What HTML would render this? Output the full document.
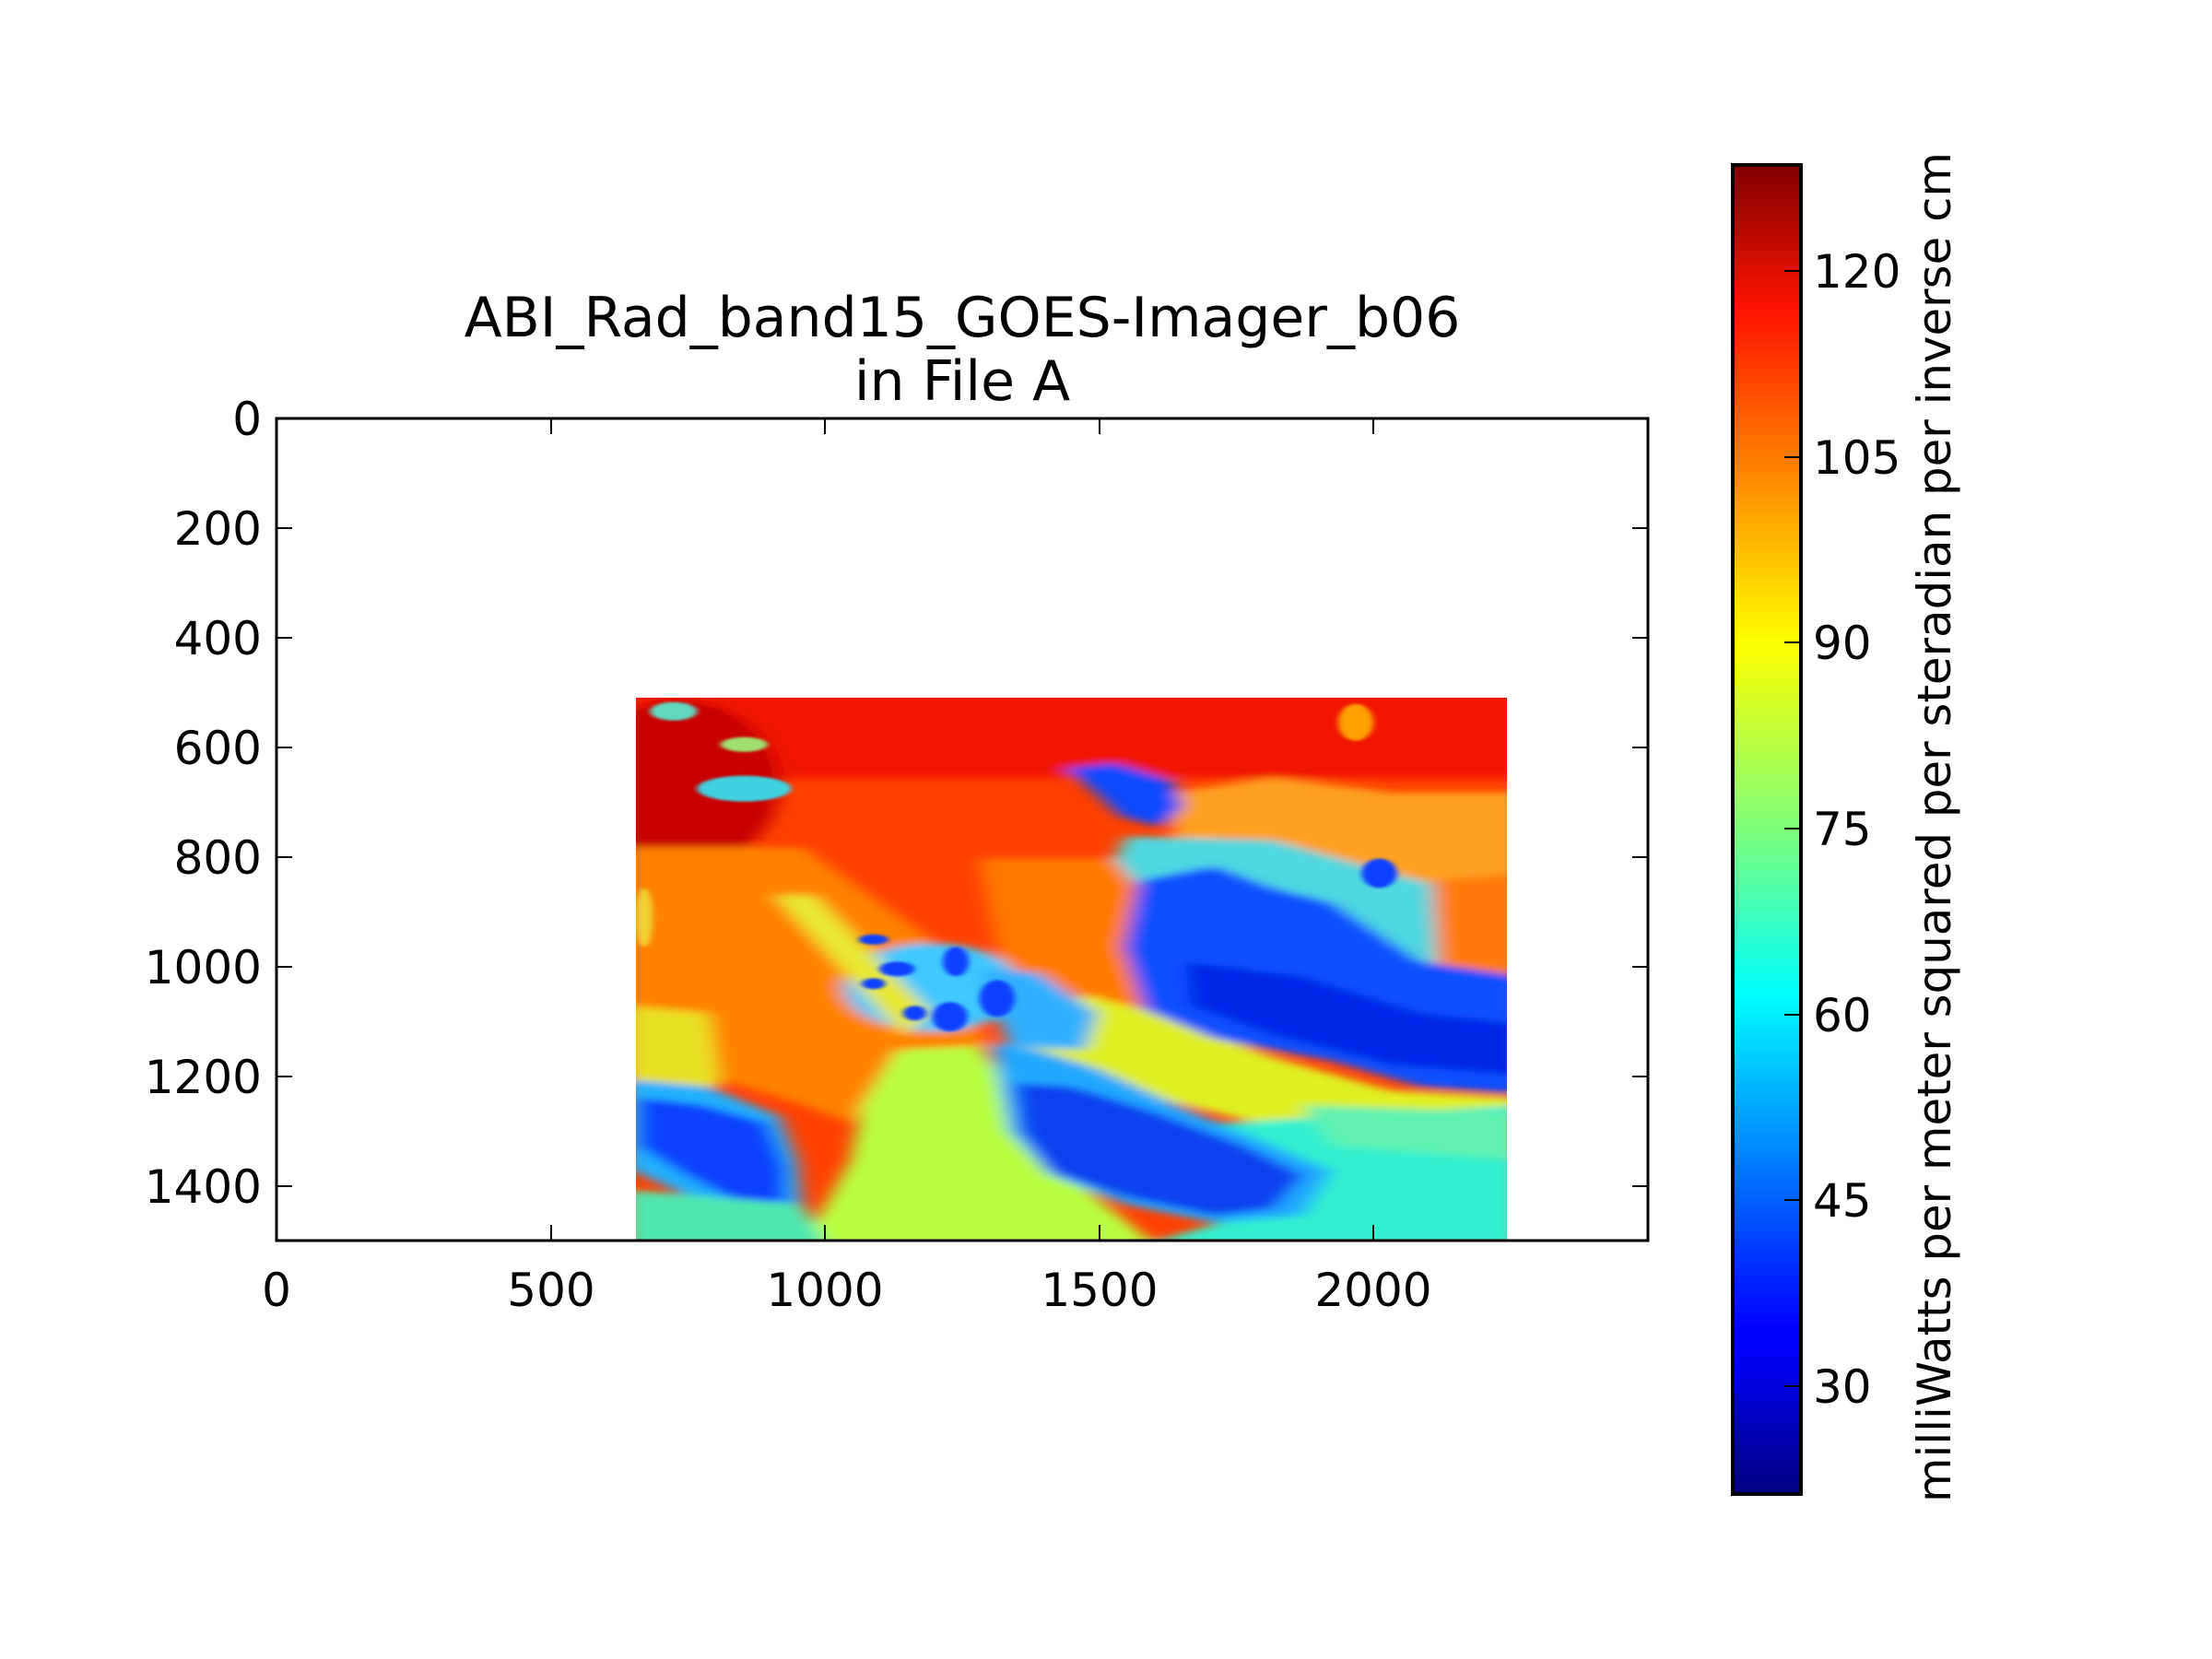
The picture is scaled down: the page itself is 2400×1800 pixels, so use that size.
<!DOCTYPE html>
<html><head><meta charset="utf-8"><style>
html,body{margin:0;padding:0;background:#fff;}
svg{display:block;}
text{font-family:"DejaVu Sans","Liberation Sans",sans-serif;fill:#000;}
</style></head><body>
<svg width="2400" height="1800" viewBox="0 0 2400 1800" xmlns="http://www.w3.org/2000/svg">
<defs>
<linearGradient id="jet" x1="0" y1="1" x2="0" y2="0">
<stop offset="0" stop-color="#000080"/>
<stop offset="0.11" stop-color="#0000ff"/>
<stop offset="0.125" stop-color="#0000ff"/>
<stop offset="0.34" stop-color="#00d8ff"/>
<stop offset="0.375" stop-color="#00ffff"/>
<stop offset="0.5" stop-color="#7dff7a"/>
<stop offset="0.64" stop-color="#ffff00"/>
<stop offset="0.89" stop-color="#ff1400"/>
<stop offset="1" stop-color="#800000"/>
</linearGradient>
<filter id="bl" x="-5%" y="-5%" width="110%" height="110%"><feGaussianBlur stdDeviation="16 10"/></filter>
<filter id="bl2" x="-20%" y="-20%" width="140%" height="140%"><feGaussianBlur stdDeviation="5 3"/></filter>
<clipPath id="imgclip"><rect x="16" y="43" width="1481" height="1475"/></clipPath>
</defs>

<svg x="690" y="757" width="945" height="589" viewBox="16 43 1481 1475" preserveAspectRatio="none">
<g clip-path="url(#imgclip)">
<rect x="0" y="0" width="1600" height="1600" fill="#ff4000"/>
<g filter="url(#bl)">
<rect x="0" y="0" width="1600" height="260" fill="#f01800"/>
<ellipse cx="90" cy="280" rx="170" ry="230" fill="#c80000"/>
<polygon points="0,450 300,450 520,700 620,990 460,1050 380,1200 300,1150 0,1000" fill="#ff8200"/>
<polygon points="600,480 870,480 880,900 650,900" fill="#ff7a00"/>
<polygon points="0,880 140,900 160,1100 0,1120" fill="#e8e020"/>
<polygon points="460,1000 600,990 640,1080 720,1300 830,1440 900,1530 300,1530 380,1300 400,1150" fill="#b8ff40"/>
<polygon points="0,1080 140,1100 260,1180 290,1300 300,1440 200,1460 80,1380 0,1320" fill="#20b0ff"/>
<polygon points="20,1130 130,1150 240,1200 270,1320 270,1420 200,1420 100,1340 20,1260" fill="#1040ff"/>
<polygon points="0,1380 300,1420 340,1530 0,1530" fill="#50e8b0"/>
<polygon points="930,300 1100,260 1300,300 1520,300 1520,560 1300,560 1100,500 930,420" fill="#ffa020"/>
<polygon points="850,420 1100,430 1300,520 1400,560 1520,620 1520,840 1350,820 1250,660 1100,580 880,580 830,480" fill="#50d8e0"/>
<polygon points="1370,540 1520,520 1520,800 1380,780" fill="#ff7a10"/>
<polygon points="780,850 900,900 1100,1020 1300,1110 1520,1130 1520,1290 1300,1210 1100,1210 900,1130 760,1070 640,990" fill="#e0f020"/>
<polygon points="870,540 1000,500 1100,560 1200,600 1350,760 1520,800 1520,1120 1350,1100 1200,1030 1000,970 880,890 845,720" fill="#0850ff"/>
<polygon points="950,760 1150,800 1350,900 1520,930 1520,1070 1300,1040 1100,960 960,880" fill="#0028e8"/>
<polygon points="745,235 830,220 930,270 945,340 910,395 840,365 790,290" fill="#0848ff"/>
<polygon points="1000,1200 1520,1150 1520,1530 880,1530 1050,1450 1150,1330" fill="#30f0d0"/>
<polygon points="1150,1150 1520,1170 1520,1300 1200,1260" fill="#60f0b0"/>
<polygon points="620,980 700,1000 800,1050 950,1160 1100,1260 1200,1330 1150,1450 1000,1470 850,1420 720,1340 650,1220" fill="#20a8ff"/>
<polygon points="660,1090 760,1100 900,1170 1050,1260 1150,1340 1100,1430 1000,1450 850,1400 720,1330 670,1220" fill="#0840f0"/>
<ellipse cx="520" cy="830" rx="150" ry="120" fill="#40c8ff"/>
<polygon points="600,780 700,790 800,900 780,1000 650,990" fill="#30b0ff"/>
<polygon points="250,580 320,580 520,900 470,960" fill="#e8e830"/>
</g>
<g filter="url(#bl2)" fill="#1040ff">
<ellipse cx="420" cy="700" rx="25" ry="14"/>
<ellipse cx="460" cy="780" rx="30" ry="20"/>
<ellipse cx="560" cy="760" rx="22" ry="40"/>
<ellipse cx="550" cy="910" rx="30" ry="40"/>
<ellipse cx="490" cy="900" rx="20" ry="20"/>
<ellipse cx="630" cy="860" rx="30" ry="50"/>
<ellipse cx="420" cy="820" rx="20" ry="15"/>
<ellipse cx="1280" cy="520" rx="30" ry="40"/>
<ellipse cx="200" cy="290" rx="80" ry="35" fill="#40d0e0"/>
<ellipse cx="80" cy="80" rx="40" ry="25" fill="#60d8c0"/>
<ellipse cx="200" cy="170" rx="40" ry="20" fill="#a0e070"/>
<ellipse cx="1240" cy="110" rx="30" ry="50" fill="#ffa000"/>
<ellipse cx="30" cy="640" rx="15" ry="80" fill="#f0d030"/>
</g>
</g>
</svg>

<rect x="300" y="454" width="1488" height="892" fill="none" stroke="#000" stroke-width="3"/>
<g stroke="#000" stroke-width="2">
<line x1="300" y1="454" x2="317" y2="454"/><line x1="1788" y1="454" x2="1771" y2="454"/>
<line x1="300" y1="573" x2="317" y2="573"/><line x1="1788" y1="573" x2="1771" y2="573"/>
<line x1="300" y1="692" x2="317" y2="692"/><line x1="1788" y1="692" x2="1771" y2="692"/>
<line x1="300" y1="811" x2="317" y2="811"/><line x1="1788" y1="811" x2="1771" y2="811"/>
<line x1="300" y1="930" x2="317" y2="930"/><line x1="1788" y1="930" x2="1771" y2="930"/>
<line x1="300" y1="1049" x2="317" y2="1049"/><line x1="1788" y1="1049" x2="1771" y2="1049"/>
<line x1="300" y1="1168" x2="317" y2="1168"/><line x1="1788" y1="1168" x2="1771" y2="1168"/>
<line x1="300" y1="1287" x2="317" y2="1287"/><line x1="1788" y1="1287" x2="1771" y2="1287"/>
<line x1="598" y1="1346" x2="598" y2="1329"/><line x1="598" y1="454" x2="598" y2="471"/>
<line x1="895" y1="1346" x2="895" y2="1329"/><line x1="895" y1="454" x2="895" y2="471"/>
<line x1="1193" y1="1346" x2="1193" y2="1329"/><line x1="1193" y1="454" x2="1193" y2="471"/>
<line x1="1490" y1="1346" x2="1490" y2="1329"/><line x1="1490" y1="454" x2="1490" y2="471"/>
</g>
<g font-size="50" text-anchor="end">
<text x="284" y="472">0</text>
<text x="284" y="591">200</text>
<text x="284" y="710">400</text>
<text x="284" y="829">600</text>
<text x="284" y="948">800</text>
<text x="284" y="1067">1000</text>
<text x="284" y="1186">1200</text>
<text x="284" y="1305">1400</text>
</g>
<g font-size="50" text-anchor="middle">
<text x="300" y="1417">0</text>
<text x="598" y="1417">500</text>
<text x="895" y="1417">1000</text>
<text x="1193" y="1417">1500</text>
<text x="1490" y="1417">2000</text>
</g>
<g font-size="60" text-anchor="middle">
<text x="1044" y="365">ABI_Rad_band15_GOES-Imager_b06</text>
<text x="1044" y="434">in File A</text>
</g>

<rect x="1880" y="179" width="74" height="1442" fill="url(#jet)" stroke="#000" stroke-width="4"/>
<g stroke="#000" stroke-width="2">
<line x1="1936" y1="294" x2="1952" y2="294"/>
<line x1="1936" y1="496" x2="1952" y2="496"/>
<line x1="1936" y1="697" x2="1952" y2="697"/>
<line x1="1936" y1="899" x2="1952" y2="899"/>
<line x1="1936" y1="1101" x2="1952" y2="1101"/>
<line x1="1936" y1="1302" x2="1952" y2="1302"/>
<line x1="1936" y1="1504" x2="1952" y2="1504"/>
</g>
<g font-size="50">
<text x="1967" y="312">120</text>
<text x="1967" y="514">105</text>
<text x="1967" y="715">90</text>
<text x="1967" y="917">75</text>
<text x="1967" y="1119">60</text>
<text x="1967" y="1320">45</text>
<text x="1967" y="1522">30</text>
</g>
<text font-size="50" transform="translate(2116,1630) rotate(-90)" textLength="1465" lengthAdjust="spacingAndGlyphs">milliWatts per meter squared per steradian per inverse cm</text>
</svg>
</body></html>
